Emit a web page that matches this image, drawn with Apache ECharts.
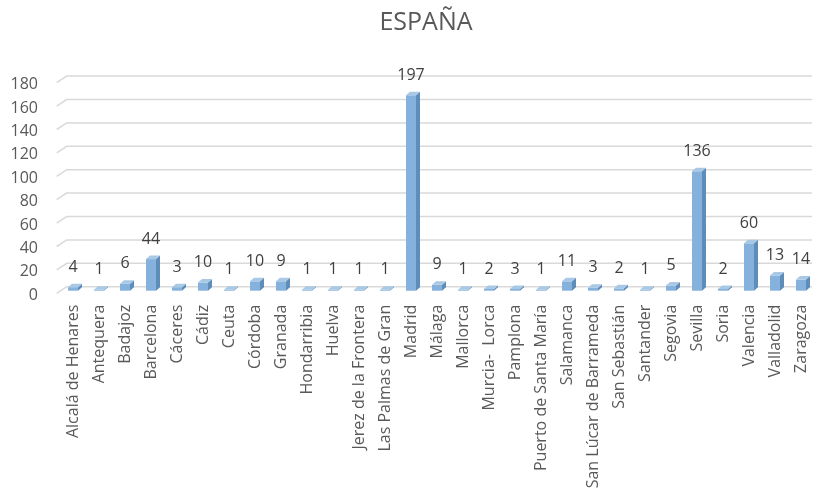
<!DOCTYPE html>
<html>
<head>
<meta charset="utf-8">
<script src="https://cdn.jsdelivr.net/npm/echarts@6/dist/echarts.min.js"></script>
<style>html,body{margin:0;padding:0;background:#fff}#c{width:814px;height:497px}</style>
</head>
<body>
<div id="c"></div>
<script>
const categories = ["Alcalá de Henares","Antequera","Badajoz","Barcelona","Cáceres","Cádiz","Ceuta","Córdoba","Granada","Hondarribia","Huelva","Jerez de la Frontera","Las Palmas de Gran","Madrid","Málaga","Mallorca","Murcia-  Lorca","Pamplona","Puerto de Santa María","Salamanca","San Lúcar de Barrameda","San Sebastián","Santander","Segovia","Sevilla","Soria","Valencia","Valladolid","Zaragoza"];
// bar heights as drawn against the value axis
const barHeights = [3,0.8,6,27,3,7,0.8,8,8,0.8,0.8,0.8,0.8,167,5,0.8,1.5,1.5,0.8,8,2.5,2,0.8,4.5,102,1.5,40.5,13,9.5];
// values printed above the bars
const labelValues = [4,1,6,44,3,10,1,10,9,1,1,1,1,197,9,1,2,3,1,11,3,2,1,5,136,2,60,13,14];
const yTicks = [0,20,40,60,80,100,120,140,160,180];

const FONT = '"Open Sans", sans-serif';
const chart = echarts.init(document.getElementById('c'));
chart.setOption({
  animation: false,
  title: {
    text: 'ESPAÑA', left: 421, top: 5, textAlign: 'center',
    textStyle: {fontFamily: FONT, fontSize: 25, fontWeight: 'normal', color: '#595959'}
  },
  grid: {left: 60, top: 80.1, width: 760, bottom: 206.3},
  xAxis: {
    type: 'category', data: categories,
    axisLine: {show: false}, axisTick: {show: false}, splitLine: {show: false},
    axisLabel: {interval: 0, rotate: 90, margin: 14, fontFamily: FONT, fontSize: 16, color: '#595959'}
  },
  yAxis: {
    type: 'value', min: 0, max: 180, interval: 20,
    axisLine: {show: false}, axisTick: {show: false}, splitLine: {show: false},
    axisLabel: {margin: 22, fontFamily: FONT, fontSize: 16, color: '#595959', verticalAlign: 'top', lineHeight: 9}
  },
  series: [
    {
      type: 'custom', silent: true, clip: false, z: 1,
      data: yTicks.map(v => [0, v]),
      encode: {x: 0, y: 1},
      renderItem: function (params, api) {
        const y = api.coord([0, api.value(1)])[1];
        const cs = params.coordSys;
        return {
          type: 'polyline',
          shape: {points: [[cs.x - 3.3, y + 2.6], [cs.x + 6.7, y - 4], [812, y - 4]]},
          style: {stroke: '#D9D9D9', lineWidth: 1.5, fill: null}
        };
      }
    },
    {
      type: 'custom', clip: false, z: 2,
      data: categories.map((c, i) => [i, barHeights[i], labelValues[i]]),
      encode: {x: 0, y: 1},
      renderItem: function (params, api) {
        const i = api.value(0), h = api.value(1);
        const base = api.coord([i, 0]);
        const top = api.coord([i, h]);
        const cx = base[0], w = 5, dx = 4, dy = 3.5;
        const yt = top[1], yb = base[1];
        return {
          type: 'group',
          children: [
            {type: 'polygon', shape: {points: [[cx + w, yt], [cx + w + dx, yt - dy], [cx + w + dx, yb - dy], [cx + w, yb]]}, style: {fill: '#5E8DB9'}},
            {type: 'rect', shape: {x: cx - w, y: yt, width: 2 * w, height: yb - yt}, style: {fill: '#84B2DD'}},
            {type: 'polygon', shape: {points: [[cx - w, yt], [cx - w + dx, yt - dy], [cx + w + dx, yt - dy], [cx + w, yt]]}, style: {fill: '#A9C8E6'}},
            {type: 'text', x: cx, y: yt - 20, style: {text: String(api.value(2)), fill: '#404040', font: '16px ' + FONT, align: 'center', verticalAlign: 'middle', textAlign: 'center', textVerticalAlign: 'middle'}}
          ]
        };
      }
    }
  ]
});
</script>
</body>
</html>
